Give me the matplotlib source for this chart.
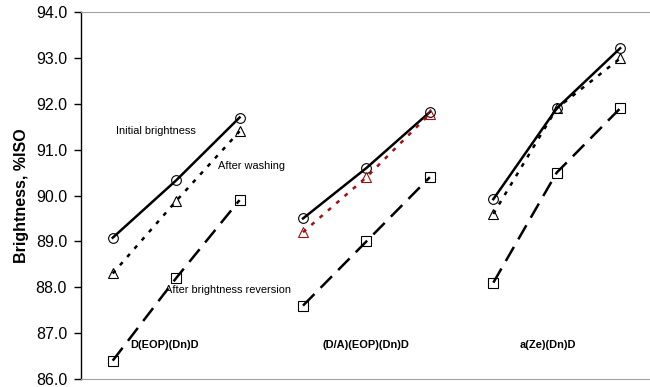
import numpy as np
import matplotlib
matplotlib.use("Agg")
from matplotlib import rc, pyplot as plt

rc('font', family=['Liberation Sans', 'DejaVu Sans'])

# three bleaching sequences, three stages each
sequences = ['D(EOP)(Dn)D', '(D/A)(EOP)(Dn)D', 'a(Ze)(Dn)D']
initial = [[89.08, 90.33, 91.70], [89.50, 90.60, 91.82], [89.92, 91.90, 93.21]]
washed = [[88.30, 89.88, 91.40], [89.20, 90.40, 91.78], [89.60, 91.90, 92.99]]
reverted = [[86.40, 88.20, 89.90], [87.60, 89.00, 90.40], [88.10, 90.50, 91.90]]
wash_colours = ['black', '#a01010', 'black']

fig = plt.figure(figsize=(6.5, 3.87), dpi=100)
ax = fig.add_axes([81/650, 8/387, 1 - 81/650, 367/387])

for g in range(3):
    x = np.arange(3) + 1 + 3*g
    ax.plot(x, initial[g], c='black', lw=1.8, marker='o', ms=7,
            mfc='none', mec='black', mew=0.8)
    ax.plot(x, washed[g], c=wash_colours[g], lw=1.8, dashes=(1.6, 2.8),
            marker='^', ms=7, mfc='none', mec=wash_colours[g], mew=0.8)
    ax.plot(x, reverted[g], c='black', lw=1.8, dashes=(6.5, 3.5),
            marker='s', ms=6.5, mfc='none', mec='black', mew=0.8)

ax.text(1.05, 91.41, 'Initial brightness', fontsize=7.9, va='center')
ax.text(2.66, 90.64, 'After washing', fontsize=7.9, va='center')
ax.text(1.82, 87.94, 'After brightness reversion', fontsize=7.9, va='center')
for xpos, name in zip([1.28, 4.31, 7.42], sequences):
    ax.text(xpos, 86.75, name, fontsize=7.9, fontweight='bold', va='center')

ax.set_xlim(0.5, 9.47)
ax.set_ylim(86, 94)
ax.set_yticks(np.arange(86, 94.1, 1))
ax.set_yticklabels(['%.1f' % v for v in np.arange(86, 94.1, 1)], fontsize=11.5)
ax.set_xticks([])
ax.set_ylabel('Brightness, %ISO', fontsize=11.5, fontweight='bold', labelpad=5)
ax.tick_params(axis='y', direction='out', length=5, width=1, pad=5)
ax.spines['right'].set_visible(False)
ax.spines['top'].set_color('#a0a0a0')
ax.spines['bottom'].set_color('#a0a0a0')
ax.spines['left'].set_linewidth(1)

plt.savefig('out.png', dpi=100)
